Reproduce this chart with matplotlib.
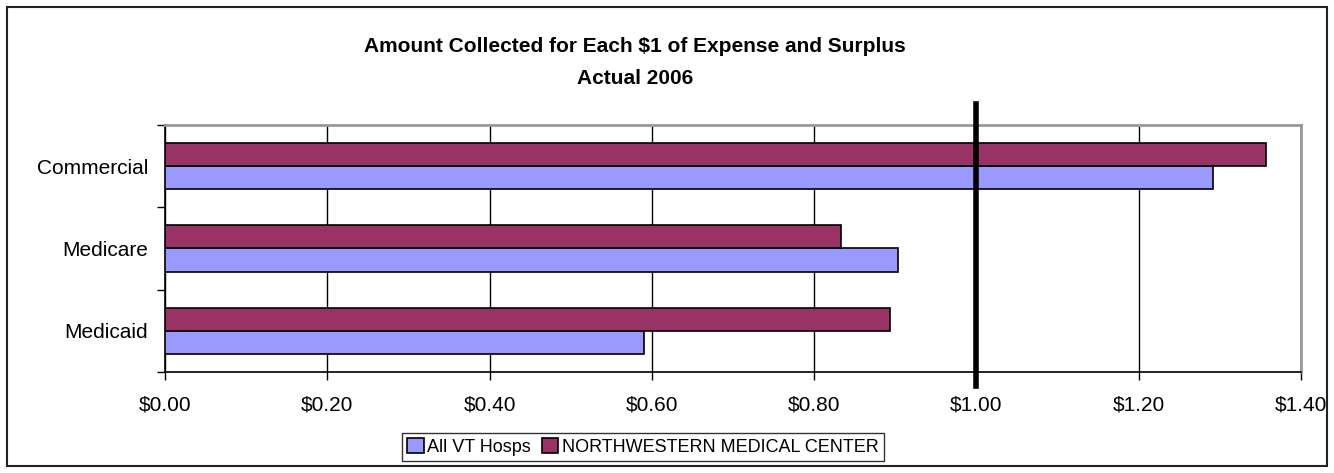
import matplotlib
matplotlib.use('Agg')
import matplotlib.pyplot as plt
from matplotlib.patches import Rectangle
import numpy as np

plt.rcParams['font.family'] = ['Liberation Sans', 'DejaVu Sans']

categories = ['Medicaid', 'Medicare', 'Commercial']
all_vt = [0.59, 0.903, 1.291]
northwestern = [0.893, 0.833, 1.357]
x_ticks = [0.0, 0.2, 0.4, 0.6, 0.8, 1.0, 1.2, 1.4]
x_labels = ['$0.00', '$0.20', '$0.40', '$0.60', '$0.80', '$1.00', '$1.20', '$1.40']
title_lines = ['Amount Collected for Each $1 of Expense and Surplus', 'Actual 2006']

W, H = 1334, 473
fig = plt.figure(figsize=(W / 100, H / 100), dpi=100)
ax = fig.add_axes([165 / W, 1 - 372 / H, (1301 - 165) / W, (372 - 125) / H])

y = np.arange(len(categories))
h = 0.28
b1 = ax.barh(y - h / 2, all_vt, height=h, color='#9999FF', edgecolor='black',
             linewidth=1.2, label='All VT Hosps', zorder=3)
b2 = ax.barh(y + h / 2, northwestern, height=h, color='#993366', edgecolor='black',
             linewidth=1.2, label='NORTHWESTERN MEDICAL CENTER', zorder=3)

ax.set_xlim(0, 1.4)
ax.set_ylim(-0.5, 2.5)
ax.set_xticks(x_ticks)
ax.set_xticklabels(x_labels, fontsize=15)
ax.set_yticks([-0.5, 0.5, 1.5, 2.5])
ax.set_yticklabels([])
ax.set_yticks(y, minor=True)
ax.set_yticklabels(categories, minor=True, fontsize=15)
ax.tick_params(axis='y', which='minor', length=0, pad=12)
ax.tick_params(axis='y', which='major', length=6, width=1, direction='out')
ax.tick_params(axis='x', length=6, width=1, direction='out', pad=11)
ax.xaxis.grid(True, color='black', linewidth=1, zorder=0)
ax.set_axisbelow(True)

for side in ['top', 'right']:
    ax.spines[side].set_color('#999999')
    ax.spines[side].set_linewidth(2)
for side in ['left', 'bottom']:
    ax.spines[side].set_color('black')
    ax.spines[side].set_linewidth(1.2)

# break-even line at $1.00
ax.axvline(1.0, ymin=-0.055, ymax=1.085, color='black', linewidth=4,
           clip_on=False, zorder=5)

fig.text(635 / W, 1 - 52 / H, title_lines[0], ha='center', va='baseline',
         fontsize=15, fontweight='bold')
fig.text(635 / W, 1 - 84 / H, title_lines[1], ha='center', va='baseline',
         fontsize=15, fontweight='bold')

leg = fig.legend(handles=[b1, b2], loc='center', bbox_to_anchor=(643 / W, 1 - 447 / H),
                 ncol=2, fontsize=13, frameon=True, fancybox=False,
                 edgecolor='black', handlelength=0.9, handleheight=0.9,
                 handletextpad=0.2, columnspacing=0.6, borderpad=0.3,
                 borderaxespad=0)
leg.get_frame().set_linewidth(1)

fig.patches.append(Rectangle((7 / W, 7 / H), (1327 - 7) / W, (466 - 7) / H,
                             transform=fig.transFigure, fill=False,
                             edgecolor='#222222', linewidth=1.5))

fig.savefig('out.png', dpi=100)
